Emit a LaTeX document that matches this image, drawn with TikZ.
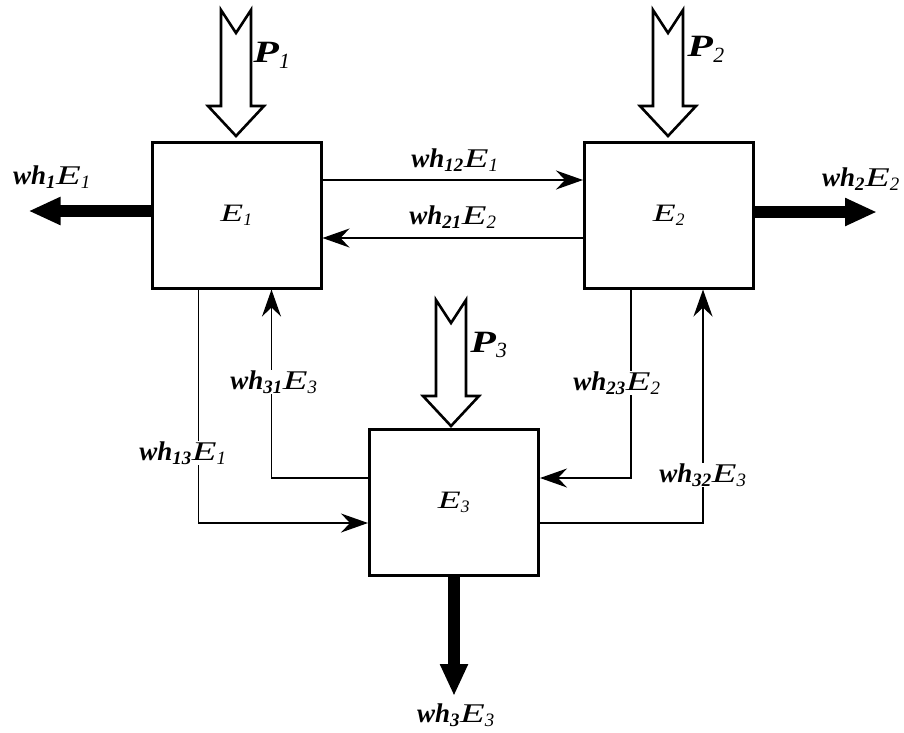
\documentclass[tikz,border=0pt]{standalone}
\usepackage{graphicx}
\usepackage{fontspec}
\setmainfont{Liberation Serif}
\usetikzlibrary{arrows.meta}

% a broad italic capital, as set in the labels
\newcommand\broad[1]{\scalebox{1.5}[1]{\textit{#1}}}
% flow label: bold italic "wh" with its index, then the italic energy symbol
\newcommand\flowlab[2]{\textbf{\textit{wh\textsubscript{#1}}}\broad{E}\textit{\textsubscript{#2}}}
\newcommand\powlab[1]{\scalebox{1.35}[1]{\textbf{\textit{P}}}\textit{\textsubscript{#1}}}

\begin{document}
\begin{tikzpicture}[x=1pt,y=-1pt,
  unit/.style={draw,line width=3pt,minimum width=169pt,minimum height=146pt,inner sep=0pt,font=\fontsize{25}{27}\selectfont},
  flow/.style={line width=1.4pt,-{Stealth[length=27pt,width=19pt,inset=9pt]}},
  loss/.style={line width=12pt,-{Triangle[length=32pt,width=26pt]}},
  supply/.style={draw,line width=2.6pt,fill=white,line join=miter},
  tag/.style={fill=white,inner sep=1pt,font=\fontsize{27}{29}\selectfont},
  ptag/.style={inner sep=0pt,font=\fontsize{31}{33}\selectfont}]
\useasboundingbox (0,0) rectangle (904,732);

% the three units
\node[unit] (E1) at (236.5,215) {\broad{E}\textit{\textsubscript{1}}};
\node[unit] (E2) at (669,215) {\broad{E}\textit{\textsubscript{2}}};
\node[unit] (E3) at (454,502.5) {\broad{E}\textit{\textsubscript{3}}};

% exchange between the units
\draw[flow] ([yshift=35pt]E1.east) -- ([yshift=35pt]E2.west);
\draw[flow] ([yshift=-23pt]E2.east -| E2.west) -- ([yshift=-23pt]E1.east);
\draw[flow] ([xshift=48pt]E1.south west) |- ([yshift=-20.5pt]E3.west);
\draw[flow] ([yshift=24.5pt]E3.west) -| ([xshift=121pt]E1.south west);
\draw[flow] ([xshift=48pt]E2.south west) |- ([yshift=24.5pt]E3.east);
\draw[flow] ([yshift=-20.5pt]E3.east) -| ([xshift=120pt]E2.south west);

% losses
\draw[loss] ([yshift=4pt]E1.west) -- ++(-122,0) coordinate (L1);
\draw[loss] ([yshift=3pt]E2.east) -- ++(122,0) coordinate (L2);
\draw[loss] (E3.south) -- ++(0,119) coordinate (L3);

% power supplies (hollow arrows)
\foreach \cx/\top in {236/10, 668/10, 451/300}{
  \path[supply] (\cx-15,\top) -- (\cx,\top+23) -- (\cx+15,\top) -- (\cx+15,\top+96)
    -- (\cx+28,\top+96) -- (\cx,\top+126) -- (\cx-28,\top+96) -- (\cx-15,\top+96) -- cycle;
}

% labels
\node[tag] (t12) at (455,160) {\flowlab{12}{1}};
\node[tag] (t21) at (453,217) {\flowlab{21}{2}};
\node[tag] (t1) at (52,177) {\flowlab{1}{1}};
\node[tag] (t2) at (861,179) {\flowlab{2}{2}};
\node[tag] (t3) at (456,715) {\flowlab{3}{3}};
\node[tag] (t31) at (274,382) {\flowlab{31}{3}};
\node[tag] (t13) at (183,453) {\flowlab{13}{1}};
\node[tag] (t23) at (617,383) {\flowlab{23}{2}};
\node[tag] (t32) at (703,475) {\flowlab{32}{3}};
\node[ptag] (p1) at (272,55) {\powlab{1}};
\node[ptag] (p2) at (706,49) {\powlab{2}};
\node[ptag] (p3) at (489,345) {\powlab{3}};
\end{tikzpicture}
\end{document}
